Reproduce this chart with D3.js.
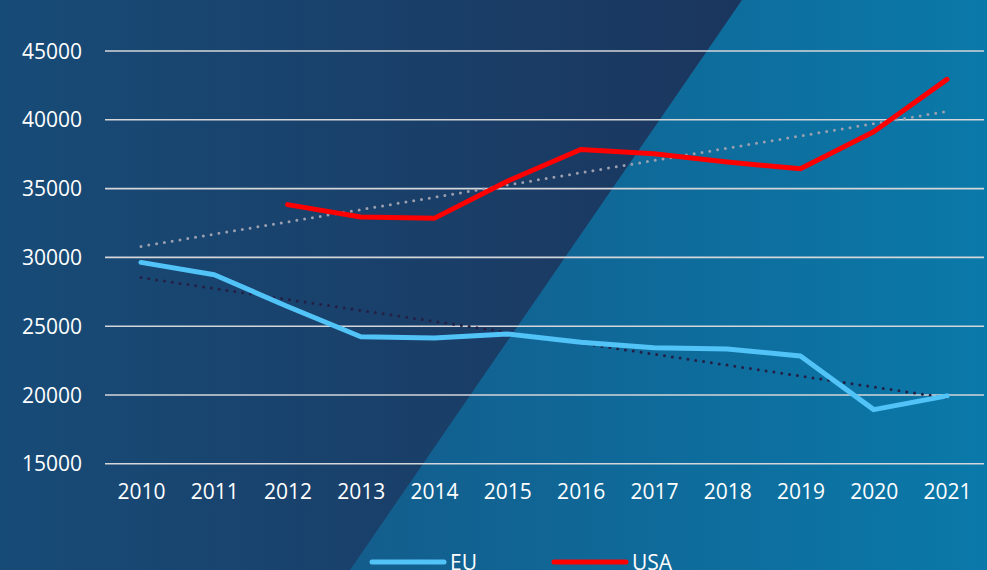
<!DOCTYPE html>
<html>
<head>
<meta charset="utf-8">
<script src="https://cdn.jsdelivr.net/npm/d3@7"></script>
<style>
  body { margin: 0; background: #174a75; overflow: hidden; }
  svg { display: block; }
</style>
</head>
<body>
<svg id="chart" width="987" height="570"></svg>
<script>
// values
var years = [2010, 2011, 2012, 2013, 2014, 2015, 2016, 2017, 2018, 2019, 2020, 2021];
var eu = [29600, 28700, 26400, 24200, 24100, 24400, 23800, 23400, 23300, 22800, 18900, 19900];
var usa = [null, null, 33800, 32900, 32800, 35500, 37800, 37500, 36900, 36400, 39100, 42900];
var yTicks = [15000, 20000, 25000, 30000, 35000, 40000, 45000];
var seriesNames = ['EU', 'USA'];

var W = 987, H = 570;
var svg = d3.select('#chart');

// background: two slanted panels
var defs = svg.append('defs');
var gl = defs.append('linearGradient').attr('id', 'gl')
  .attr('gradientUnits', 'userSpaceOnUse').attr('x1', 0).attr('x2', 740).attr('y1', 0).attr('y2', 0);
gl.append('stop').attr('offset', 0).attr('stop-color', '#174b77');
gl.append('stop').attr('offset', 1).attr('stop-color', '#1b365e');
var gr = defs.append('linearGradient').attr('id', 'gr')
  .attr('gradientUnits', 'userSpaceOnUse').attr('x1', 350).attr('x2', W).attr('y1', 0).attr('y2', 0);
gr.append('stop').attr('offset', 0).attr('stop-color', '#135d8c');
gr.append('stop').attr('offset', 1).attr('stop-color', '#0a79a9');

svg.append('rect').attr('width', W).attr('height', H).attr('fill', 'url(#gr)');
svg.append('polygon').attr('points', '0,0 742,0 350,570 0,570').attr('fill', 'url(#gl)');

var x = d3.scalePoint().domain(years).range([141, 947]);
var y = d3.scaleLinear().domain([15000, 45000]).range([463.3, 50.5]);

// gridlines + y labels
var yAxis = d3.axisLeft(y).tickValues(yTicks).tickSize(-(984 - 105)).tickPadding(23).tickFormat(d3.format('d'));
var gy = svg.append('g').attr('transform', 'translate(105,0)').call(yAxis);
gy.select('.domain').remove();
gy.selectAll('line').attr('stroke', '#d4d6da').attr('stroke-width', 1.6);
gy.selectAll('text').attr('fill', '#fff').style('font', '21px "Open Sans", sans-serif').attr('dy', '0.36em');

// x labels
var xAxis = d3.axisBottom(x).tickSize(0).tickPadding(0);
var gx = svg.append('g').attr('transform', 'translate(0,484)').call(xAxis);
gx.select('.domain').remove();
gx.selectAll('text').attr('fill', '#fff').style('font', '21px "Open Sans", sans-serif').attr('dy', '0.71em');

// linear trend (least squares on year index, like the spreadsheet trendline)
function trend(vals) {
  var pts = [];
  vals.forEach(function(v, i) { if (v != null) pts.push([i + 1, v]); });
  var mx = d3.mean(pts, function(p) { return p[0]; });
  var my = d3.mean(pts, function(p) { return p[1]; });
  var sxy = d3.sum(pts, function(p) { return (p[0] - mx) * (p[1] - my); });
  var sxx = d3.sum(pts, function(p) { return (p[0] - mx) * (p[0] - mx); });
  var b = sxy / sxx, a = my - b * mx;
  return years.map(function(yr, i) { return a + b * (i + 1); });
}

var line = d3.line()
  .defined(function(d) { return d != null; })
  .x(function(d, i) { return x(years[i]); })
  .y(function(d) { return y(d); });

// trend lines
svg.append('path').datum(trend(usa)).attr('d', line)
  .attr('fill', 'none').attr('stroke', '#9b9fb0').attr('stroke-width', 3)
  .attr('stroke-linecap', 'round').attr('stroke-dasharray', '0 7.9');
svg.append('path').datum(trend(eu)).attr('d', line)
  .attr('fill', 'none').attr('stroke', '#241f45').attr('stroke-width', 3)
  .attr('stroke-linecap', 'round').attr('stroke-dasharray', '0 7.9');

// data lines
var colors = { EU: '#52c3f7', USA: '#ff0000' };
svg.append('path').datum(eu).attr('d', line)
  .attr('fill', 'none').attr('stroke', colors.EU).attr('stroke-width', 5)
  .attr('stroke-linecap', 'round').attr('stroke-linejoin', 'round');
svg.append('path').datum(usa).attr('d', line)
  .attr('fill', 'none').attr('stroke', colors.USA).attr('stroke-width', 5)
  .attr('stroke-linecap', 'round').attr('stroke-linejoin', 'round');

// legend
var legX = [372, 554];
var leg = svg.append('g').selectAll('g').data(seriesNames).enter().append('g')
  .attr('transform', function(d, i) { return 'translate(' + legX[i] + ',562)'; });
leg.append('line').attr('x1', 0).attr('x2', 72)
  .attr('stroke', function(d) { return colors[d]; }).attr('stroke-width', 5).attr('stroke-linecap', 'round');
leg.append('text').attr('x', 78).attr('y', 7.5).attr('fill', '#fff')
  .style('font', '21px "Open Sans", sans-serif').text(function(d) { return d; });
</script>
</body>
</html>
